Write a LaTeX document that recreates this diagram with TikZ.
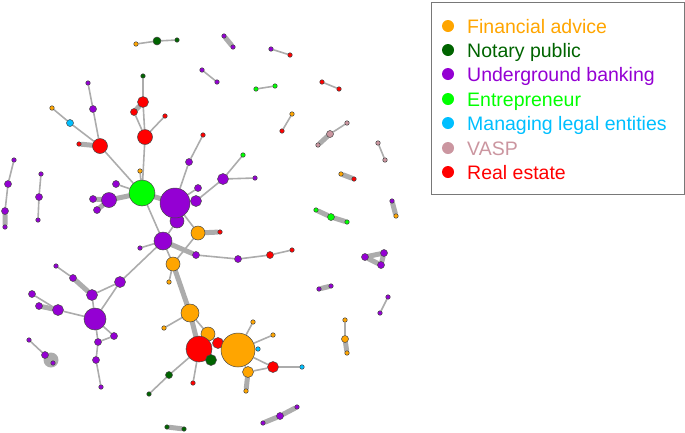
\documentclass[tikz,border=0pt]{standalone}
\usepackage{fontspec}
\setmainfont{Liberation Sans}
\usetikzlibrary{backgrounds}
\definecolor{cfa}{RGB}{255,165,0}
\definecolor{cnp}{RGB}{0,100,0}
\definecolor{cub}{RGB}{148,0,211}
\definecolor{cen}{RGB}{0,255,0}
\definecolor{cml}{RGB}{0,191,255}
\definecolor{cva}{RGB}{203,150,160}
\definecolor{cre}{RGB}{255,0,0}
\definecolor{cedge}{RGB}{172,172,172}
\definecolor{cline}{RGB}{70,70,70}
\definecolor{cbox}{RGB}{120,120,120}
\tikzset{
  vx/.style={circle, draw=cline, line width=0.5pt, inner sep=0pt},
  fa/.style={vx, fill=cfa}, np/.style={vx, fill=cnp}, ub/.style={vx, fill=cub},
  en/.style={vx, fill=cen}, ml/.style={vx, fill=cml}, va/.style={vx, fill=cva},
  re/.style={vx, fill=cre},
  t/.style={minimum size=4.5pt}, s/.style={minimum size=7pt},
  m/.style={minimum size=11pt},
  ed/.style={draw=cedge, line width=1.6pt},
  tk/.style={draw=cedge, line width=5pt, line cap=round},
  lgdot/.style={circle, inner sep=0pt, minimum size=12pt},
  lgtext/.style={anchor=base west, inner sep=0pt, font=\fontsize{19.5}{23}\selectfont},
}
\begin{document}
\begin{tikzpicture}[x=1pt,y=-1pt]
\useasboundingbox (0,0) rectangle (685,432);
% isolated pairs / small components
\node[fa,t] (a1) at (136,44) {};
\node[np,minimum size=8pt] (a2) at (157,41) {};
\node[np,t] (a3) at (177,40) {};
\node[ub,t] (b1) at (224,36) {};
\node[ub,t] (b2) at (233,47) {};
\node[ub,t] (c1) at (271,49) {};
\node[re,t] (c2) at (290,55) {};
\node[ub,t] (d1) at (202,70) {};
\node[ub,t] (d2) at (217,82) {};
\node[en,t] (e1) at (256,89) {};
\node[en,t] (e2) at (275,86) {};
\node[re,t] (f1) at (322,82) {};
\node[re,t] (f2) at (339,89) {};
\node[fa,t] (g1) at (292,114) {};
\node[re,t] (g2) at (282,131) {};
\node[va,s] (h1) at (330,134) {};
\node[va,t] (h2) at (347,123) {};
\node[va,t] (h3) at (318,145) {};
\node[va,t] (i1) at (378,143) {};
\node[va,t] (i2) at (385,160) {};
\node[fa,t] (j1) at (341,174) {};
\node[re,t] (j2) at (354,179) {};
\node[ub,t] (k1) at (392,201) {};
\node[fa,t] (k2) at (396,216) {};
\node[en,t] (l1) at (316,210) {};
\node[en,s] (l2) at (331,217) {};
\node[en,t] (l3) at (347,222) {};
\node[ub,s] (m1) at (365,257) {};
\node[ub,s] (m2) at (384,253) {};
\node[ub,s] (m3) at (381,265) {};
\node[ub,t] (n1) at (319,289) {};
\node[ub,t] (n2) at (331,286) {};
\node[ub,t] (o1) at (388,297) {};
\node[ub,t] (o2) at (380,313) {};
\node[fa,t] (q1) at (345,320) {};
\node[fa,s] (q2) at (345,339) {};
\node[fa,t] (q3) at (347,353) {};
\node[ub,t] (r1) at (297,407) {};
\node[ub,s] (r2) at (280,416) {};
\node[ub,t] (r3) at (263,423) {};
\node[np,t] (s1) at (167,427) {};
\node[np,t] (s2) at (184,429) {};
\node[ub,t] (t1) at (14,160) {};
\node[ub,s] (t2) at (8,184) {};
\node[ub,s] (t3) at (5,211) {};
\node[ub,t] (t4) at (5,227) {};
\node[ub,t] (u1) at (41,174) {};
\node[ub,s] (u2) at (39,197) {};
\node[ub,t] (u3) at (38,220) {};
\node[ub,t] (v1) at (29,340) {};
\node[ub,s] (v2) at (45,355) {};
\node[ub,t] (v3) at (53,363) {};
% main component
\node[re,minimum size=15pt] (R1) at (145,137) {};
\node[re,m] (R2) at (143,102) {};
\node[re,s] (R3) at (134,112) {};
\node[np,t] (G1) at (143,76) {};
\node[re,t] (R4) at (165,116) {};
\node[re,minimum size=15pt] (R5) at (100,146) {};
\node[re,t] (R6) at (79,144) {};
\node[ub,s] (P1) at (93,109) {};
\node[ub,t] (P2) at (88,83) {};
\node[ml,s] (C1) at (70,123) {};
\node[fa,t] (O1) at (52,108) {};
\node[en,minimum size=26pt] (E1) at (142,193) {};
\node[fa,t] (O2) at (140,171) {};
\node[ub,s] (P3) at (116,184) {};
\node[ub,minimum size=15pt] (P4) at (109,200) {};
\node[ub,s] (P5) at (93,199) {};
\node[ub,s] (P6) at (97,210) {};
\node[ub,minimum size=14pt] (P13) at (177,221) {};
\node[ub,minimum size=30pt] (P7) at (175,203) {};
\node[ub,s] (P8) at (189,162) {};
\node[re,t] (R7) at (203,135) {};
\node[ub,s] (P9) at (198,188) {};
\node[ub,m] (P10) at (196,201) {};
\node[ub,m] (P11) at (223,179) {};
\node[en,t] (E2) at (243,155) {};
\node[ub,t] (P12) at (255,178) {};
\node[ub,minimum size=18pt] (P14) at (163,241) {};
\node[fa,minimum size=14pt] (O3) at (198,233) {};
\node[re,t] (R8) at (220,232) {};
\node[ub,s] (P15) at (196,255) {};
\node[ub,s] (P16) at (238,259) {};
\node[re,s] (R9) at (270,255) {};
\node[re,t] (R10) at (292,250) {};
\node[ub,t] (P17) at (140,248) {};
\node[fa,minimum size=14pt] (O4) at (173,264) {};
\node[fa,t] (O5) at (169,282) {};
\node[ub,m] (P18) at (120,282) {};
\node[ub,s] (P19) at (73,278) {};
\node[ub,t] (P20) at (56,266) {};
\node[ub,m] (P21) at (92,295) {};
\node[ub,minimum size=22pt] (P22) at (95,319) {};
\node[ub,s] (P23) at (32,294) {};
\node[ub,s] (P24) at (39,306) {};
\node[ub,m] (P25) at (58,310) {};
\node[ub,s] (P26) at (114,336) {};
\node[ub,s] (P27) at (98,342) {};
\node[ub,s] (P28) at (96,360) {};
\node[ub,t] (P29) at (101,387) {};
\node[fa,minimum size=18pt] (O6) at (190,313) {};
\node[fa,t] (O7) at (164,328) {};
\node[fa,minimum size=14pt] (O8) at (208,334) {};
\node[re,m] (R12) at (218,343) {};
\node[re,minimum size=26pt] (R11) at (199,349) {};
\node[np,m] (D1) at (211,360) {};
\node[np,s] (D2) at (169,375) {};
\node[np,t] (D3) at (149,394) {};
\node[re,t] (R13) at (193,383) {};
\node[fa,minimum size=34pt] (O9) at (238,350) {};
\node[fa,t] (O10) at (253,322) {};
\node[fa,t] (O11) at (273,335) {};
\node[ml,t] (C2) at (258,349) {};
\node[re,m] (R14) at (273,367) {};
\node[ml,t] (C3) at (302,367) {};
\node[fa,m] (O12) at (248,372) {};
\node[fa,t] (O13) at (246,391) {};
\begin{scope}[on background layer]
\fill[cedge] (51,360) circle (7.5);
\draw[ed] (a1)--(a2) (a2)--(a3) (c1)--(c2) (d1)--(d2) (e1)--(e2) (f1)--(f2)
  (g1)--(g2) (h1)--(h2) (i1)--(i2) (o1)--(o2) (q1)--(q2) (t1)--(t2) (t2)--(t3)
  (u1)--(u2) (u2)--(u3) (v1)--(v2);
\draw[tk] (b1)--(b2) (h1)--(h3) (j1)--(j2) (k1)--(k2) (l1)--(l2) (l2)--(l3)
  (m1)--(m2) (m1)--(m3) (m2)--(m3) (n1)--(n2) (q2)--(q3) (r1)--(r2) (r2)--(r3)
  (s1)--(s2) (t3)--(t4);
\draw[ed] (E1)--(R1) (R1)--(R2) (R1)--(R3) (R2)--(G1) (R1)--(R4)
  (E1)--(R5) (R5)--(P1) (P1)--(P2) (R5)--(C1) (C1)--(O1)
  (E1)--(O2) (E1)--(P3) (E1)--(P14) (P7)--(P8) (P8)--(R7) (P7)--(P9)
  (P7)--(P10) (P10)--(P11) (P11)--(E2) (P11)--(P12) (P7)--(O3) (P13)--(P14)
  (P14)--(O4) (O3)--(O4) (P14)--(P17) (P14)--(P18) (P15)--(P16) (P16)--(R9) (R9)--(R10)
  (O4)--(O5) (P18)--(P22) (P18)--(P21) (P21)--(P22) (P19)--(P20) (P23)--(P25)
  (P25)--(P22) (P22)--(P26) (P22)--(P27) (P26)--(P27) (P27)--(P28) (P28)--(P29)
  (O6)--(O7) (O6)--(O8) (R11)--(D2) (D2)--(D3) (R11)--(R13) (R11)--(D1)
  (R11)--(R12) (O9)--(R12) (O9)--(O10) (O9)--(O11) (O9)--(C2) (O9)--(R14)
  (O9)--(O12) (R14)--(C3) (O12)--(R14) (R11)--(O8);
\draw[tk] (R2)--(R3) (R5)--(R6) (E1)--(P4) (P4)--(P5) (P4)--(P6) (E1)--(P7)
  (P7)--(P13) (O3)--(R8) (P14)--(P15) (O4)--(O6) (O6)--(R11) (P19)--(P21)
  (P24)--(P25) (O12)--(O13);
\end{scope}
% legend
\draw[cbox, line width=1pt] (431,2) rectangle (684,194);
\node[lgdot, fill=cfa] (L1) at (448,26) {};
\node[lgdot, fill=cnp] (L2) at (448,50) {};
\node[lgdot, fill=cub] (L3) at (448,74) {};
\node[lgdot, fill=cen] (L4) at (448,99) {};
\node[lgdot, fill=cml] (L5) at (448,123) {};
\node[lgdot, fill=cva] (L6) at (448,148) {};
\node[lgdot, fill=cre] (L7) at (448,172) {};
\node[lgtext, text=cfa] (T1) at (467,33) {Financial advice};
\node[lgtext, text=cnp] (T2) at (467,57) {Notary public};
\node[lgtext, text=cub] (T3) at (467,81) {Underground banking};
\node[lgtext, text=cen] (T4) at (467,106) {Entrepreneur};
\node[lgtext, text=cml] (T5) at (467,130) {Managing legal entities};
\node[lgtext, text=cva] (T6) at (467,155) {VASP};
\node[lgtext, text=cre] (T7) at (467,179) {Real estate};
\end{tikzpicture}
\end{document}
